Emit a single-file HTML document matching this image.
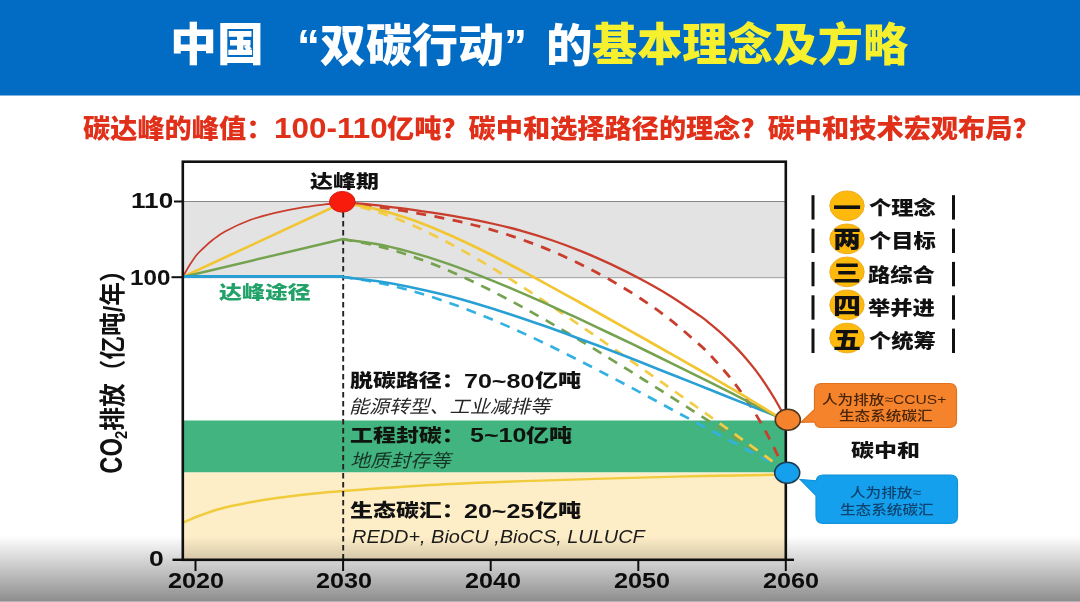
<!DOCTYPE html>
<html lang="zh-CN">
<head>
<meta charset="utf-8">
<title>中国“双碳行动”的基本理念及方略</title>
<style>
html,body{margin:0;padding:0;background:#fff;}
body{width:1080px;height:602px;overflow:hidden;position:relative;font-family:"Liberation Sans","Noto Sans CJK SC",sans-serif;}
#slide{position:absolute;left:0;top:0;width:1080px;height:602px;overflow:hidden;background:#fff;}
#hdr{position:absolute;left:0;top:0;width:1080px;height:95px;background:#026bc4;border-bottom:1px solid #7fb4e1;}
.t{position:absolute;white-space:nowrap;line-height:1.2;transform-origin:left top;}
#content{position:absolute;left:0;top:0;width:1080px;height:602px;filter:blur(0.45px);}
#botline{position:absolute;left:0;top:601px;width:1080px;height:1px;background:#b2b2b2;}
#shade{position:absolute;left:0;top:536px;width:1080px;height:66px;background:linear-gradient(to bottom, rgba(0,0,0,0) 0%, rgba(0,0,0,0.45) 100%);}
</style>
</head>
<body>
<div id="slide">
<div id="hdr"></div>
<div id="content">
<svg width="1080" height="602" viewBox="0 0 1080 602" style="position:absolute;left:0;top:0">
<rect x="182.8" y="201.5" width="603.0" height="75.7" fill="#e3e3e3"/>
<line x1="182.8" y1="201.5" x2="785.8" y2="201.5" stroke="#888" stroke-width="1"/>
<line x1="182.8" y1="277.7" x2="785.8" y2="277.7" stroke="#999" stroke-width="1"/>
<rect x="182.8" y="420.5" width="603.0" height="52.0" fill="#41b47f"/>
<rect x="182.8" y="472.5" width="603.0" height="87.3" fill="#feeec8"/>
<path d="M182.8,522.8 C185.7,521.6 193.0,518.0 200.0,515.5 C207.0,513.0 212.5,510.4 225.0,507.5 C237.5,504.6 258.3,500.8 275.0,498.3 C291.7,495.8 307.5,494.2 325.0,492.5 C342.5,490.8 359.2,489.7 380.0,488.3 C400.8,486.9 423.3,485.3 450.0,484.0 C476.7,482.7 502.2,481.8 540.0,480.6 C577.8,479.4 636.2,477.6 677.0,476.6 C717.8,475.6 767.0,474.9 785.0,474.6" fill="none" stroke="#f0cb3c" stroke-width="2.4"/>
<line x1="343.2" y1="212" x2="343.2" y2="559.8" stroke="#222" stroke-width="1.9" stroke-dasharray="5.5 3.5"/>
<path d="M343.0,277.0 C348.6,277.9 365.4,280.2 376.5,282.4 C387.6,284.6 398.8,287.3 409.9,290.4 C421.0,293.5 432.2,297.0 443.4,300.8 C454.5,304.6 465.6,308.9 476.8,313.3 C488.0,317.7 499.1,322.5 510.3,327.4 C521.5,332.3 532.6,337.5 543.8,342.9 C554.9,348.2 566.1,353.9 577.2,359.5 C588.4,365.1 599.5,371.0 610.7,376.8 C621.9,382.6 633.1,388.5 644.2,394.5 C655.4,400.5 666.5,406.6 677.6,412.6 C688.8,418.6 700.0,424.6 711.1,430.6 C722.2,436.6 733.4,442.5 744.5,448.4 C755.6,454.2 772.4,462.8 778.0,465.7" fill="none" stroke="#33b2e2" stroke-width="2.7" stroke-dasharray="10 8.3"/>
<path d="M343.0,239.2 C348.6,240.3 365.4,243.1 376.5,245.8 C387.6,248.5 398.8,251.8 409.9,255.6 C421.0,259.4 432.2,263.7 443.4,268.3 C454.5,272.9 465.6,278.1 476.8,283.5 C488.0,288.9 499.1,294.6 510.3,300.5 C521.5,306.4 532.6,312.7 543.8,319.1 C554.9,325.5 566.1,332.0 577.2,338.7 C588.4,345.4 599.5,352.2 610.7,359.1 C621.9,366.0 633.1,373.0 644.2,380.0 C655.4,387.0 666.5,394.0 677.6,401.1 C688.8,408.2 700.0,415.3 711.1,422.4 C722.2,429.5 733.4,436.6 744.5,443.7 C755.6,450.8 772.4,461.4 778.0,465.0" fill="none" stroke="#74a24f" stroke-width="2.7" stroke-dasharray="10 8.3"/>
<path d="M343.0,203.0 C348.6,204.4 365.4,208.1 376.5,211.6 C387.6,215.1 398.8,219.4 409.9,224.2 C421.0,229.0 432.2,234.4 443.4,240.2 C454.5,245.9 465.6,252.2 476.8,258.7 C488.0,265.2 499.1,272.2 510.3,279.2 C521.5,286.2 532.6,293.5 543.8,300.9 C554.9,308.3 566.1,315.9 577.2,323.5 C588.4,331.1 599.5,338.9 610.7,346.6 C621.9,354.4 633.1,362.2 644.2,370.0 C655.4,377.8 666.5,385.6 677.6,393.5 C688.8,401.4 700.0,409.3 711.1,417.2 C722.2,425.1 733.4,433.0 744.5,441.0 C755.6,449.0 772.4,461.2 778.0,465.3" fill="none" stroke="#f3cc45" stroke-width="2.7" stroke-dasharray="10 8.3"/>
<path d="M343.0,203.0 C348.0,203.6 362.9,205.1 372.8,206.4 C382.7,207.7 392.6,209.1 402.5,210.7 C412.4,212.3 422.3,214.1 432.2,216.0 C442.1,217.9 452.1,219.9 462.0,222.2 C471.9,224.5 481.9,227.0 491.8,229.9 C501.7,232.8 511.6,235.9 521.5,239.4 C531.4,242.9 541.3,246.6 551.2,250.8 C561.1,255.0 571.1,259.6 581.0,264.5 C590.9,269.4 600.9,274.6 610.8,280.3 C620.7,286.0 630.6,291.9 640.5,298.5 C650.4,305.1 660.3,311.9 670.2,319.7 C680.1,327.5 693.5,339.4 700.0,345.1 C706.5,350.8 706.2,351.0 709.2,354.1 C712.2,357.2 715.2,360.5 718.3,363.9 C721.3,367.3 724.4,370.8 727.5,374.5 C730.6,378.2 733.7,382.0 736.7,386.1 C739.8,390.2 742.8,394.4 745.8,398.9 C748.8,403.4 751.9,408.0 755.0,413.0 C758.1,418.0 761.2,423.2 764.2,428.7 C767.2,434.2 770.2,440.0 773.3,446.2 C776.3,452.4 781.0,462.4 782.5,465.7" fill="none" stroke="#c93d2d" stroke-width="2.8" stroke-dasharray="10 8.5"/>
<path d="M343.0,277.0 C348.6,277.7 365.3,279.4 376.4,281.0 C387.5,282.6 398.7,284.6 409.8,286.9 C420.9,289.2 432.1,291.8 443.2,294.6 C454.3,297.4 465.4,300.5 476.5,303.8 C487.6,307.1 498.8,310.6 509.9,314.2 C521.0,317.8 532.2,321.7 543.3,325.6 C554.4,329.5 565.6,333.6 576.7,337.7 C587.8,341.8 599.0,346.0 610.1,350.3 C621.2,354.6 632.4,358.9 643.5,363.3 C654.6,367.7 665.7,372.1 676.8,376.5 C687.9,380.9 699.1,385.4 710.2,389.8 C721.3,394.2 732.5,398.7 743.6,403.1 C754.7,407.5 771.4,414.2 777.0,416.4" fill="none" stroke="#28a0d4" stroke-width="2.6"/>
<path d="M343.0,239.2 C348.6,240.0 365.3,242.0 376.4,244.1 C387.5,246.2 398.7,248.9 409.8,251.9 C420.9,254.9 432.1,258.4 443.2,262.1 C454.3,265.8 465.4,270.0 476.5,274.3 C487.6,278.6 498.8,283.1 509.9,287.8 C521.0,292.5 532.2,297.4 543.3,302.4 C554.4,307.4 565.6,312.5 576.7,317.7 C587.8,322.9 599.0,328.2 610.1,333.5 C621.2,338.8 632.4,344.1 643.5,349.5 C654.6,354.9 665.7,360.4 676.8,365.9 C687.9,371.4 699.1,376.8 710.2,382.4 C721.3,388.0 732.5,393.6 743.6,399.3 C754.7,405.0 771.4,413.7 777.0,416.6" fill="none" stroke="#74a24f" stroke-width="2.5"/>
<path d="M343.0,203.0 C348.6,204.0 365.3,206.4 376.4,209.1 C387.5,211.8 398.7,215.2 409.8,219.1 C420.9,222.9 432.1,227.5 443.2,232.2 C454.3,236.9 465.4,242.1 476.5,247.5 C487.6,252.9 498.8,258.7 509.9,264.5 C521.0,270.3 532.2,276.3 543.3,282.4 C554.4,288.4 565.6,294.6 576.7,300.8 C587.8,307.0 599.0,313.2 610.1,319.5 C621.2,325.8 632.4,332.0 643.5,338.3 C654.6,344.6 665.7,350.8 676.8,357.1 C687.9,363.4 699.1,369.8 710.2,376.2 C721.3,382.6 732.5,389.0 743.6,395.7 C754.7,402.4 771.4,412.7 777.0,416.1" fill="none" stroke="#f1c632" stroke-width="2.7"/>
<path d="M343.0,202.5 C348.0,202.9 362.9,203.8 372.8,204.8 C382.7,205.8 392.6,207.1 402.5,208.4 C412.4,209.7 422.3,211.2 432.2,212.7 C442.1,214.2 452.1,215.8 462.0,217.6 C471.9,219.4 481.9,221.3 491.8,223.5 C501.7,225.7 511.6,228.1 521.5,230.8 C531.4,233.6 541.3,236.6 551.2,240.0 C561.1,243.4 571.1,247.1 581.0,251.1 C590.9,255.1 600.9,259.5 610.8,264.1 C620.7,268.8 630.6,273.7 640.5,279.0 C650.4,284.3 660.3,289.8 670.2,295.9 C680.1,302.0 693.5,311.4 700.0,315.9 C706.5,320.4 706.2,320.6 709.3,323.1 C712.4,325.6 715.5,328.1 718.6,330.8 C721.7,333.5 724.7,336.3 727.8,339.3 C730.9,342.3 734.0,345.3 737.1,348.6 C740.2,351.9 743.3,355.3 746.4,358.9 C749.5,362.5 752.6,366.3 755.7,370.4 C758.8,374.5 761.8,378.7 764.9,383.3 C768.0,387.9 771.1,392.8 774.2,398.0 C777.3,403.2 782.0,411.8 783.5,414.6" fill="none" stroke="#c93d2d" stroke-width="2.3"/>
<path d="M182.8,277.0 C184.0,274.9 187.6,268.2 190.0,264.5 C192.4,260.8 194.8,257.2 197.0,254.5 C199.2,251.8 201.0,250.3 203.5,248.0 C206.0,245.7 208.4,243.2 212.0,240.5 C215.6,237.8 218.7,234.9 225.0,231.5 C231.3,228.1 241.7,223.1 250.0,220.0 C258.3,216.9 266.7,214.8 275.0,212.8 C283.3,210.8 291.7,209.2 300.0,207.8 C308.3,206.4 317.8,205.3 325.0,204.4 C332.2,203.5 340.2,202.8 343.2,202.5" fill="none" stroke="#c93d2d" stroke-width="1.8"/>
<line x1="182.8" y1="277" x2="343.2" y2="202.5" stroke="#f1c632" stroke-width="2.6"/>
<line x1="182.8" y1="277" x2="343.2" y2="239" stroke="#74a24f" stroke-width="2.4"/>
<line x1="182.8" y1="276.5" x2="343.2" y2="276.5" stroke="#28a0d4" stroke-width="3.2"/>
<rect x="182.8" y="161.7" width="603.0" height="398.1" fill="none" stroke="#111" stroke-width="2.6"/>
<line x1="785.8" y1="559.8" x2="794" y2="559.8" stroke="#111" stroke-width="2.4"/>
<line x1="174" y1="201.5" x2="182.8" y2="201.5" stroke="#111" stroke-width="2"/>
<line x1="171.5" y1="277.2" x2="182.8" y2="277.2" stroke="#111" stroke-width="2"/>
<line x1="172.5" y1="559.8" x2="182.8" y2="559.8" stroke="#111" stroke-width="2.4"/>
<line x1="195.5" y1="559.8" x2="195.5" y2="571" stroke="#111" stroke-width="2"/>
<line x1="343.1" y1="559.8" x2="343.1" y2="571" stroke="#111" stroke-width="2"/>
<line x1="490.7" y1="559.8" x2="490.7" y2="571" stroke="#111" stroke-width="2"/>
<line x1="638.3" y1="559.8" x2="638.3" y2="571" stroke="#111" stroke-width="2"/>
<line x1="785.8" y1="559.8" x2="785.8" y2="571" stroke="#111" stroke-width="2"/>
<ellipse cx="342.3" cy="201.8" rx="12.8" ry="10.4" fill="#f81c0c" stroke="#cf1a0c" stroke-width="0.9"/>
<path d="M821.5,383.5 H949.5 Q956.5,383.5 956.5,390.5 V420.5 Q956.5,427.5 949.5,427.5 H821.5 Q815.5,427.5 814.7,422 L801,422.3 L814.5,409.5 V390.5 Q814.5,383.5 821.5,383.5 Z" fill="#f5832b" stroke="#e0731f" stroke-width="1.2"/>
<path d="M823,475 H950.5 Q957.5,475 957.5,482 V516.3 Q957.5,523.3 950.5,523.3 H823 Q816,523.3 816,516.3 V495.5 L800.2,479.5 L816.2,480.8 Q817,475 823,475 Z" fill="#14a0ec" stroke="#1292da" stroke-width="1.2"/>
<ellipse cx="787.8" cy="419.7" rx="12.5" ry="10.5" fill="#f5832b" stroke="#4a3520" stroke-width="1.6"/>
<ellipse cx="787.2" cy="472.7" rx="12.5" ry="10.5" fill="#14a0ec" stroke="#1d3c52" stroke-width="1.6"/>
<rect x="811.5" y="195.2" width="3" height="24.4" fill="#111"/>
<rect x="952" y="195.2" width="3" height="24.4" fill="#111"/>
<ellipse cx="847" cy="205.8" rx="17.2" ry="14.8" fill="#fdb90c" stroke="#eeac22" stroke-width="1"/>
<rect x="811.5" y="228.6" width="3" height="24.4" fill="#111"/>
<rect x="952" y="228.6" width="3" height="24.4" fill="#111"/>
<ellipse cx="847" cy="238.9" rx="17.2" ry="14.8" fill="#fdb90c" stroke="#eeac22" stroke-width="1"/>
<rect x="811.5" y="261.9" width="3" height="24.4" fill="#111"/>
<rect x="952" y="261.9" width="3" height="24.4" fill="#111"/>
<ellipse cx="847" cy="271.9" rx="17.2" ry="14.8" fill="#fdb90c" stroke="#eeac22" stroke-width="1"/>
<rect x="811.5" y="295.3" width="3" height="24.4" fill="#111"/>
<rect x="952" y="295.3" width="3" height="24.4" fill="#111"/>
<ellipse cx="847" cy="304.9" rx="17.2" ry="14.8" fill="#fdb90c" stroke="#eeac22" stroke-width="1"/>
<rect x="811.5" y="328.6" width="3" height="24.4" fill="#111"/>
<rect x="952" y="328.6" width="3" height="24.4" fill="#111"/>
<ellipse cx="847" cy="338.0" rx="17.2" ry="14.8" fill="#fdb90c" stroke="#eeac22" stroke-width="1"/>
</svg>
<div class="t" style="left:169.8px;top:19.2px;font-size:45.3px;color:#fff;font-weight:900;transform:scaleX(1.035);font-family:"Noto Sans CJK SC",sans-serif;">中国</div>
<div class="t" style="left:296.5px;top:19.5px;font-size:45.3px;color:#fff;font-weight:900;transform:scaleX(1.015);font-family:"Noto Sans CJK SC",sans-serif;">“双碳行动”</div>
<div class="t" style="left:546.0px;top:19.5px;font-size:45.3px;color:#fff;font-weight:900;transform:scaleX(1.025);font-family:"Noto Sans CJK SC",sans-serif;">的</div>
<div class="t" style="left:592.0px;top:19.0px;font-size:45.3px;color:#f6f02e;font-weight:900;transform:scaleX(0.997);font-family:"Noto Sans CJK SC",sans-serif;">基本理念及方略</div>
<div class="t" style="left:83.0px;top:114.1px;font-size:26.3px;color:#e0301a;font-weight:900;transform:scaleX(1.034);">碳达峰的峰值：</div>
<div class="t" style="left:274.0px;top:109.5px;font-size:30.0px;color:#e0301a;font-weight:700;transform:scaleX(1.048);">100-110</div>
<div class="t" style="left:386.5px;top:114.1px;font-size:26.3px;color:#e0301a;font-weight:900;transform:scaleX(1.034);">亿吨？碳中和选择路径的理念？碳中和技术宏观布局？</div>
<div class="t" style="left:130.5px;top:187.5px;font-size:21.6px;color:#111;font-weight:700;transform:scaleX(1.211);">110</div>
<div class="t" style="left:130.0px;top:264.5px;font-size:21.6px;color:#111;font-weight:700;transform:scaleX(1.121);">100</div>
<div class="t" style="left:149.0px;top:545.9px;font-size:21.6px;color:#111;font-weight:700;transform:scaleX(1.228);">0</div>
<div class="t" style="left:168.0px;top:568.0px;font-size:21.2px;color:#111;font-weight:700;transform:scaleX(1.190);">2020</div>
<div class="t" style="left:316.1px;top:568.0px;font-size:21.2px;color:#111;font-weight:700;transform:scaleX(1.190);">2030</div>
<div class="t" style="left:465.0px;top:568.0px;font-size:21.2px;color:#111;font-weight:700;transform:scaleX(1.190);">2040</div>
<div class="t" style="left:614.0px;top:568.0px;font-size:21.2px;color:#111;font-weight:700;transform:scaleX(1.190);">2050</div>
<div class="t" style="left:762.6px;top:568.0px;font-size:21.2px;color:#111;font-weight:700;transform:scaleX(1.190);">2060</div>
<div class="t" style="left:309.6px;top:172.0px;font-size:18.0px;color:#111;font-weight:900;transform:scaleX(1.275);">达峰期</div>
<div class="t" style="left:218.9px;top:282.7px;font-size:18.0px;color:#22a268;font-weight:900;transform:scaleX(1.275);">达峰途径</div>
<div class="t" style="left:349.7px;top:371.0px;font-size:18.0px;color:#111;font-weight:900;transform:scaleX(1.275);">脱碳路径：</div>
<div class="t" style="left:463.8px;top:369.5px;font-size:19.5px;color:#111;font-weight:700;transform:scaleX(1.285);">70~80</div>
<div class="t" style="left:535.1px;top:371.0px;font-size:18.0px;color:#111;font-weight:900;transform:scaleX(1.275);">亿吨</div>
<div class="t" style="left:349.0px;top:395.6px;font-size:18.3px;color:#262626;font-weight:400;transform:scaleX(1.100);font-style:italic;">能源转型、工业减排等</div>
<div class="t" style="left:349.7px;top:426.1px;font-size:18.0px;color:#10140f;font-weight:900;transform:scaleX(1.275);">工程封碳：</div>
<div class="t" style="left:469.8px;top:424.1px;font-size:19.5px;color:#10140f;font-weight:700;transform:scaleX(1.285);">5~10</div>
<div class="t" style="left:526.3px;top:426.1px;font-size:18.0px;color:#10140f;font-weight:900;transform:scaleX(1.275);">亿吨</div>
<div class="t" style="left:350.0px;top:450.0px;font-size:18.3px;color:#173527;font-weight:400;transform:scaleX(1.100);font-style:italic;">地质封存等</div>
<div class="t" style="left:349.8px;top:501.2px;font-size:18.0px;color:#111;font-weight:900;transform:scaleX(1.275);">生态碳汇：</div>
<div class="t" style="left:463.6px;top:499.5px;font-size:19.5px;color:#111;font-weight:700;transform:scaleX(1.285);">20~25</div>
<div class="t" style="left:534.5px;top:501.2px;font-size:18.0px;color:#111;font-weight:900;transform:scaleX(1.275);">亿吨</div>
<div class="t" style="left:351.8px;top:525.5px;font-size:19.0px;color:#1c1c1c;font-weight:400;transform:scaleX(1.048);font-style:italic;">REDD+, BioCU ,BioCS, LULUCF</div>
<div class="t" style="left:851.1px;top:440.9px;font-size:18.0px;color:#111;font-weight:900;transform:scaleX(1.275);">碳中和</div>
<div class="t" style="left:869.0px;top:197.4px;font-size:19.3px;color:#111;font-weight:900;transform:scaleX(1.156);">个理念</div>
<div class="t" style="left:869.0px;top:230.2px;font-size:19.3px;color:#111;font-weight:900;transform:scaleX(1.156);">个目标</div>
<div class="t" style="left:868.0px;top:263.9px;font-size:19.3px;color:#111;font-weight:900;transform:scaleX(1.156);">路综合</div>
<div class="t" style="left:868.0px;top:296.6px;font-size:19.3px;color:#111;font-weight:900;transform:scaleX(1.156);">举并进</div>
<div class="t" style="left:869.0px;top:330.4px;font-size:19.3px;color:#111;font-weight:900;transform:scaleX(1.156);">个统筹</div>
<div class="t" style="left:833.1px;top:194.5px;font-size:23.0px;color:#111;font-weight:900;transform:scaleX(1.220);">一</div>
<div class="t" style="left:833.1px;top:226.2px;font-size:23.0px;color:#111;font-weight:900;transform:scaleX(1.220);">两</div>
<div class="t" style="left:833.1px;top:260.3px;font-size:23.0px;color:#111;font-weight:900;transform:scaleX(1.220);">三</div>
<div class="t" style="left:833.1px;top:293.4px;font-size:23.0px;color:#111;font-weight:900;transform:scaleX(1.220);">四</div>
<div class="t" style="left:833.1px;top:326.8px;font-size:23.0px;color:#111;font-weight:900;transform:scaleX(1.220);">五</div>
<div class="t" style="left:821.8px;top:391.5px;font-size:13.0px;color:#4a2509;font-weight:500;transform:scaleX(1.200);">人为排放≈CCUS+</div>
<div class="t" style="left:838.6px;top:407.5px;font-size:13.0px;color:#4a2509;font-weight:500;transform:scaleX(1.200);">生态系统碳汇</div>
<div class="t" style="left:850.3px;top:484.5px;font-size:13.0px;color:#0e426f;font-weight:500;transform:scaleX(1.200);">人为排放≈</div>
<div class="t" style="left:839.7px;top:501.8px;font-size:13.0px;color:#0e426f;font-weight:500;transform:scaleX(1.200);">生态系统碳汇</div>
<div class="t" style="left:113.7px;top:366.0px;font-size:23.7px;font-weight:700;color:#111;transform-origin:center center;transform:translate(-50%,-50%) rotate(-90deg) scale(1.000,1.120);"><span style="display:inline-block;font-size:1.17em;line-height:1;transform:scaleX(0.86);transform-origin:left bottom;margin-right:-0.245em">CO</span><span style="font-size:0.62em;font-weight:700;vertical-align:-0.3em">2</span>排放（亿吨/年）</div>
</div>
<div id="shade"></div>
<div id="botline"></div>
</div>
</body>
</html>
